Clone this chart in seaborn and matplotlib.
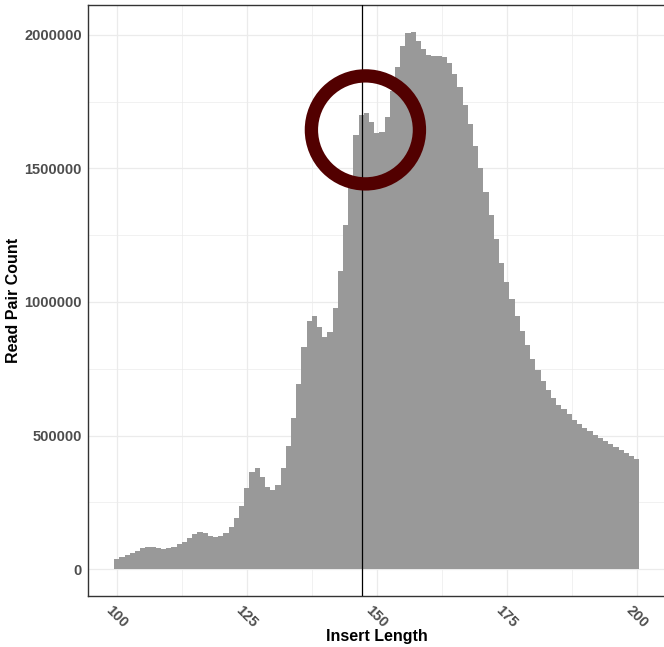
import matplotlib
matplotlib.use("Agg")
import matplotlib.pyplot as plt
import seaborn as sns
import numpy as np
import pandas as pd
from matplotlib.ticker import MultipleLocator, FuncFormatter

# Datos
longitudes = list(range(100, 201))
recuentos = [
    38900, 45200, 54000, 61500, 69000, 80300, 84100, 82900, 79100, 76600,      # 100-109
    80300, 84100, 95400, 102900, 118000, 131800, 140600, 136800, 123000, 119300,  # 110-119
    123000, 135600, 156900, 190800, 236000, 304000, 364000, 379000, 344000, 309000,  # 120-129
    296000, 316000, 377000, 459000, 567000, 694000, 832000, 930000, 948000, 908000,  # 130-139
    870000, 889000, 977000, 1115000, 1288000, 1440000, 1625000, 1700000, 1708000, 1672000,  # 140-149
    1633000, 1637000, 1694000, 1789000, 1880000, 1958000, 2006000, 2012000, 1978000, 1946000,  # 150-159
    1924000, 1921000, 1922000, 1918000, 1893000, 1855000, 1805000, 1736000, 1667000, 1585000,  # 160-169
    1501000, 1412000, 1324000, 1234000, 1146000, 1075000, 1012000, 949000, 893000, 839000,  # 170-179
    786000, 744000, 703000, 672000, 641000, 616000, 598000, 579000, 560000, 544000,  # 180-189
    528000, 516000, 502000, 490000, 480000, 468000, 456000, 446000, 433000, 422000,  # 190-199
    412000,  # 200
]
linea_media = 147.1
circulo_x = 147.8
circulo_y = 1644000

df = pd.DataFrame({'longitud': longitudes, 'recuento': recuentos})

sns.set_style('white')
plt.rcParams['font.family'] = ['Liberation Sans', 'DejaVu Sans']

fig = plt.figure(figsize=(6.64, 6.47), dpi=100)
# el panel sigue un poco mas alla del borde derecho de la imagen
ancho_px = 584
ax = fig.add_axes([88 / 664, 1 - 596 / 647, ancho_px / 664, 591.3 / 647])

# Histograma con pesos
sns.histplot(data=df, x='longitud', weights='recuento', discrete=True,
             color='#999999', alpha=1, linewidth=0, ax=ax, zorder=2)

ax.axvline(linea_media, color='black', linewidth=0.9, zorder=3)

# Circulo marcado
ax.scatter([circulo_x], [circulo_y], s=6050, facecolors='none',
           edgecolors='#520000', linewidths=9.6, zorder=4)

# Limites con expansion tipo ggplot
ymax = max(recuentos)
xmin = 99.5 - 0.05 * 101
ax.set_xlim(xmin, xmin + ancho_px / 5.2)
ax.set_ylim(-0.05 * ymax, 1.05 * ymax)

ax.xaxis.set_major_locator(MultipleLocator(25))
ax.xaxis.set_minor_locator(MultipleLocator(12.5))
ax.yaxis.set_major_locator(MultipleLocator(500000))
ax.yaxis.set_minor_locator(MultipleLocator(250000))
ax.yaxis.set_major_formatter(FuncFormatter(lambda v, p: f'{v:.0f}'))

ax.grid(True, which='major', color='#EBEBEB', linewidth=0.9, zorder=0)
ax.grid(True, which='minor', color='#EBEBEB', linewidth=0.5, zorder=0)
ax.set_axisbelow(True)

for s in ax.spines.values():
    s.set_color('#333333')
    s.set_linewidth(1.0)

ax.tick_params(axis='both', which='major', length=2.5, width=0.8, color='#333333',
               labelcolor='#4D4D4D', labelsize=10.5)
ax.tick_params(axis='both', which='minor', length=0)
ax.tick_params(axis='x', pad=3)
ax.tick_params(axis='y', pad=2)
for t in ax.get_xticklabels():
    t.set_rotation(-45)
    t.set_ha('center')
    t.set_va('top')
    t.set_fontweight('bold')
for t in ax.get_yticklabels():
    t.set_fontweight('bold')

# Etiquetas
ax.set_xlabel('Insert Length', fontsize=11.5, fontweight='bold', color='black')
ax.set_ylabel('Read Pair Count', fontsize=11.5, fontweight='bold', color='black')
ax.xaxis.label.set_va('center')
ax.yaxis.label.set_va('center')
ax.xaxis.set_label_coords((377 - 88) / ancho_px, -40 / 591.3)
ax.yaxis.set_label_coords(-74.7 / ancho_px, 0.5)

plt.savefig('out.png', dpi=100)
